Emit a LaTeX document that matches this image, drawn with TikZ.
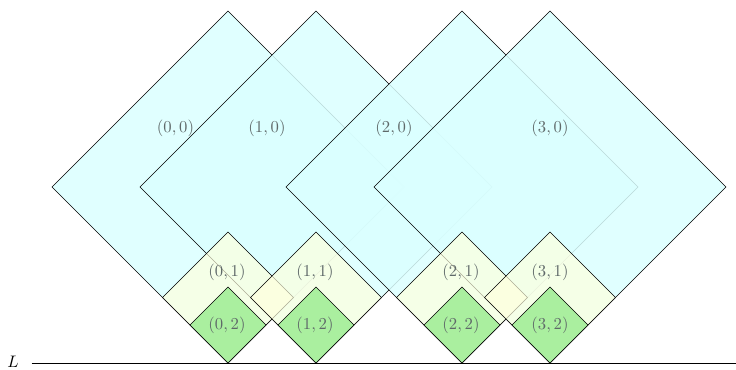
\documentclass[tikz,border=0pt]{standalone}
\definecolor{bigcyan}{RGB}{218,255,255}
\definecolor{midlime}{RGB}{255,255,221}
\definecolor{smallgreen}{RGB}{157,237,147}
\definecolor{labelgray}{RGB}{95,105,105}
\usepackage{amsmath}
\usepackage{tikz}

\begin{document}
\begin{tikzpicture}[x=0.6pt, y=0.6pt]
    \useasboundingbox (0,-6) rectangle (736,363);
    % level 0 blocks
    \foreach \xb in {228,316,462,550}
      \draw[fill=bigcyan, fill opacity=0.85]
        (\xb,0) -- ++(176,176) -- ++(-176,176) -- ++(-176,-176) -- cycle;
    % level 1 blocks
    \foreach \xb in {228,316,462,550}
      \draw[fill=midlime, fill opacity=0.68]
        (\xb,0) -- ++(65.5,65.5) -- ++(-65.5,65.5) -- ++(-65.5,-65.5) -- cycle;
    % level 2 blocks
    \foreach \xb in {228,316,462,550}
      \draw[fill=smallgreen, fill opacity=0.85]
        (\xb,0) -- ++(38,38) -- ++(-38,38) -- ++(-38,-38) -- cycle;
    % labels
    \foreach \i/\xl in {0/175.5,1/267,2/394,3/550}
      \node[text=labelgray] (lab\i0) at (\xl,235) {$(\i,0)$};
    \foreach \i/\xb in {0/227,1/315,2/461,3/550}{
      \node[text=labelgray] (lab\i1) at (\xb,91) {$(\i,1)$};
      \node[text=labelgray] (lab\i2) at (\xb,38) {$(\i,2)$};
    }
    % baseline
    \node (L) at (13,1.5) {$L$};
    \coordinate (Lend) at (736,0);
    \draw ([xshift=4.2pt]L.east |- Lend) -- (Lend);
  \end{tikzpicture}
\end{document}
